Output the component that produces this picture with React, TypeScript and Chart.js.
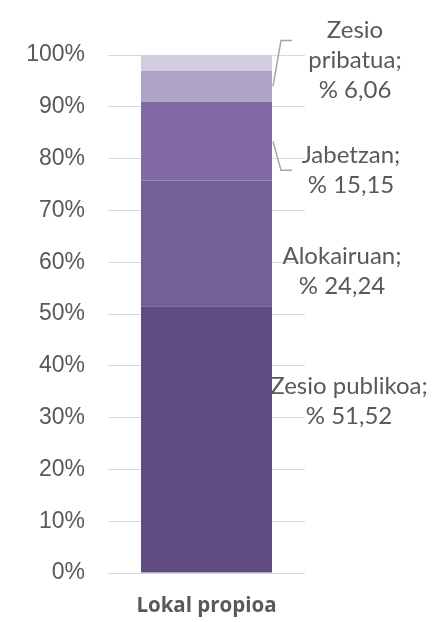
import React, { useEffect, useRef } from "react";
import { Chart, registerables } from "chart.js";

Chart.register(...registerables);

const categories = ["Lokal propioa"];
const seriesNames = ["Zesio publikoa", "Alokairuan", "Jabetzan", "Zesio pribatua", "Bestelakoak"];
const seriesValues = [51.52, 24.24, 15.15, 6.06, 3.03];
const seriesColors = ["#5f4b7f", "#745f97", "#8169a6", "#afa3c7", "#d3cce1"];
const labelLines = [["Zesio publikoa;"], ["Alokairuan;"], ["Jabetzan;"], ["Zesio", "pribatua;"], []];
const showLabel = [true, true, true, true, false];
const yTickValues = [0, 10, 20, 30, 40, 50, 60, 70, 80, 90, 100];

// label placement relative to the segment (styling only)
const labelLayout = [
  { dx: 77, dy: -38, leader: null as number | null },
  { dx: 70, dy: 28, leader: null as number | null },
  { dx: 79, dy: 29, leader: 0 as number | null },
  { dx: 83, dy: -26, leader: -20 as number | null },
  null,
];

const fmt = (v: number) => v.toFixed(2).replace(".", ",");

const labelPlugin = {
  id: "segLabels",
  afterDatasetsDraw(chart: any) {
    const ctx = chart.ctx;
    chart.data.datasets.forEach((_ds: any, i: number) => {
      const lay = labelLayout[i];
      if (!lay || !showLabel[i]) return;
      const bar: any = chart.getDatasetMeta(i).data[0];
      const p = bar.getProps(["x", "y", "base", "width"], true);
      const right = p.x + p.width / 2;
      const mid = (p.y + p.base) / 2;
      const lines = [...labelLines[i], `% ${fmt(seriesValues[i])}`];
      const cx = right + lay.dx;
      const cy = mid + lay.dy;
      const lh = 30;
      ctx.save();
      ctx.font = "24px Lato";
      ctx.fillStyle = "#595959";
      ctx.textAlign = "center";
      ctx.textBaseline = "middle";
      lines.forEach((t, k) => ctx.fillText(t, cx, cy + (k - (lines.length - 1) / 2) * lh));
      if (lay.leader !== null) {
        ctx.strokeStyle = "#a6a6a6";
        ctx.lineWidth = 1.5;
        ctx.beginPath();
        ctx.moveTo(right + 1, mid);
        ctx.lineTo(right + 9, cy + lay.leader);
        ctx.lineTo(right + 20, cy + lay.leader);
        ctx.stroke();
      }
      ctx.restore();
    });
  },
};

const bgPlugin = {
  id: "bg",
  beforeDraw(chart: any) {
    const ctx = chart.ctx;
    ctx.save();
    ctx.fillStyle = "#ffffff";
    ctx.fillRect(0, 0, chart.width, chart.height);
    ctx.restore();
  },
};

export default function App() {
  const ref = useRef<HTMLCanvasElement>(null);
  useEffect(() => {
    document.body.style.margin = "0";
    const canvas = ref.current!;
    const chart = new Chart(canvas, {
      type: "bar",
      data: {
        labels: categories,
        datasets: seriesNames.map((name, i) => ({
          label: name,
          data: [seriesValues[i]],
          backgroundColor: seriesColors[i],
          borderWidth: 0,
          barPercentage: 0.665,
          categoryPercentage: 1,
        })),
      },
      options: {
        responsive: false,
        animation: false,
        layout: { padding: { top: 55, right: 127, left: 0, bottom: 0 } },
        plugins: { legend: { display: false }, tooltip: { enabled: false } },
        scales: {
          x: {
            stacked: true,
            grid: { display: false, drawTicks: false },
            border: { display: false },
            ticks: {
              color: "#595959",
              font: { family: "Open Sans", size: 20.5, weight: "bold" },
              padding: 21,
            },
            afterFit: (s: any) => {
              s.height = 49;
            },
          },
          y: {
            stacked: true,
            min: 0,
            max: 100,
            afterBuildTicks: (s: any) => {
              s.ticks = yTickValues.map((v) => ({ value: v }));
            },
            grid: { color: "#d9d9d9", lineWidth: 1, drawTicks: false },
            border: { display: false },
            ticks: {
              color: "#595959",
              font: { family: "Liberation Sans", size: 23 },
              padding: 23,
              callback: (v: any) => `${v}%`,
            },
            afterFit: (s: any) => {
              s.width = 108;
            },
          },
        },
      },
      plugins: [bgPlugin, labelPlugin],
    });
    return () => chart.destroy();
  }, []);
  return <canvas ref={ref} width={432} height={622} style={{ display: "block" }} />;
}
